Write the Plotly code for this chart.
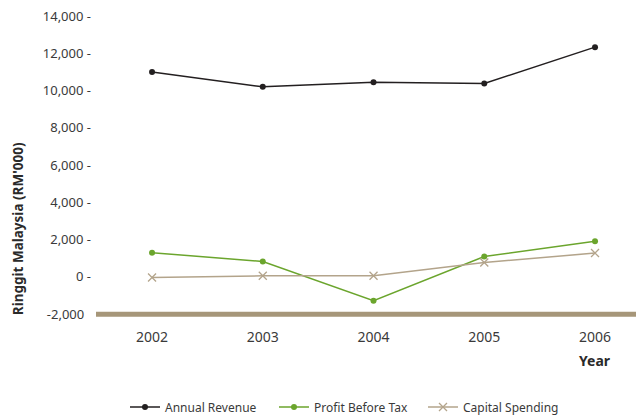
import plotly.graph_objects as go

years = ["2002", "2003", "2004", "2005", "2006"]
annual_revenue = [11000, 10200, 10450, 10380, 12330]
profit_before_tax = [1300, 830, -1280, 1100, 1910]
capital_spending = [-30, 60, 60, 770, 1280]

y_tickvals = [-2000, 0, 2000, 4000, 6000, 8000, 10000, 12000, 14000]
y_ticktext = ["-2,000  ", "0 -", "2,000 -", "4,000 -", "6,000 -", "8,000 -",
              "10,000 -", "12,000 -", "14,000 -"]

FONT = "Noto Sans"
BLACK = "#231f20"
GREEN = "#6ba52d"
TAN = "#b3a48b"
AXIS = "#a69679"

fig = go.Figure()
fig.add_trace(go.Scatter(x=years, y=annual_revenue, name="Annual Revenue",
                         mode="lines+markers", line=dict(color=BLACK, width=1.5),
                         marker=dict(symbol="circle", size=6, color=BLACK)))
fig.add_trace(go.Scatter(x=years, y=profit_before_tax, name="Profit Before Tax",
                         mode="lines+markers", line=dict(color=GREEN, width=1.5),
                         marker=dict(symbol="circle", size=6, color=GREEN)))
fig.add_trace(go.Scatter(x=years, y=capital_spending, name="Capital Spending",
                         mode="lines+markers", line=dict(color=TAN, width=1.5),
                         marker=dict(symbol="x-thin", size=8,
                                     line=dict(color=TAN, width=1.3), color=TAN)))

fig.add_shape(type="line", xref="paper", x0=0, x1=1, yref="y", y0=-2000, y1=-2000,
              line=dict(color=AXIS, width=5), layer="below")

fig.update_layout(
    width=636, height=415,
    margin=dict(l=96, r=0, t=16, b=98),
    paper_bgcolor="white", plot_bgcolor="white",
    font=dict(family=FONT, size=13, color="#3a3a3a"),
    showlegend=True,
    legend=dict(orientation="h", xref="container", x=(120 + 7 - 2) / 636, xanchor="left",
                yref="container", y=(415 - 407) / 415, yanchor="middle",
                font=dict(size=12, color="#3a3a3a"),
                entrywidth=104, entrywidthmode="pixels"),
    xaxis=dict(type="category", range=[-0.506, 4.37], showgrid=False, zeroline=False,
               showline=False, ticks="", ticklabelstandoff=10,
               tickfont=dict(size=14, color="#3a3a3a")),
    yaxis=dict(range=[-2150, 14000], showgrid=False, zeroline=False, showline=False,
               tickvals=y_tickvals, ticktext=y_ticktext, ticks="",
               ticklabelstandoff=4, tickfont=dict(size=13, color="#3a3a3a")),
    annotations=[
        dict(text="<b>Year</b>", xref="paper", yref="paper", x=(613 - 96) / 540,
             xanchor="right", y=(316.8 - 360) / 301, yanchor="middle",
             showarrow=False, font=dict(size=14, color="#2a2a2a")),
        dict(text="<b>Ringgit Malaysia (RM'000)</b>", xref="paper", yref="paper",
             x=-(96 - 18) / 540, xanchor="center", y=(316.8 - 229) / 301,
             yanchor="middle", textangle=-90, showarrow=False,
             font=dict(size=13.5, color="#2a2a2a")),
    ],
)

fig.write_html("out.html", config={"displayModeBar": False},
               post_script="document.body.style.margin='0';")
